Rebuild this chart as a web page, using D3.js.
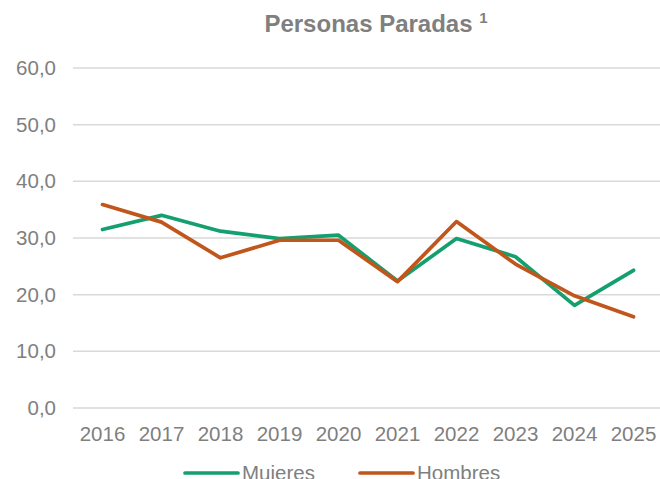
<!DOCTYPE html>
<html>
<head>
<meta charset="utf-8">
<script src="https://cdn.jsdelivr.net/npm/d3@7"></script>
<style>
  body { margin: 0; background: #fff; }
  svg { display: block; font-family: "Liberation Sans", Arial, sans-serif; }
</style>
</head>
<body>
<div id="chart"></div>
<script>
const years = ["2016", "2017", "2018", "2019", "2020", "2021", "2022", "2023", "2024", "2025"];
const mujeres = [31.5, 34.0, 31.2, 29.9, 30.5, 22.4, 29.9, 26.7, 18.1, 24.3];
const hombres = [35.9, 32.8, 26.5, 29.6, 29.6, 22.3, 32.9, 25.4, 19.8, 16.1];
const yTicks = [0, 10, 20, 30, 40, 50, 60];

const width = 660, height = 479;
const margin = { top: 68, right: -3, bottom: 71, left: 73 };
const textColor = "#7f7f7f";

const svg = d3.select("#chart").append("svg")
    .attr("width", width)
    .attr("height", height);

const x = d3.scaleBand()
    .domain(years)
    .range([margin.left, width - margin.right]);

const y = d3.scaleLinear()
    .domain([0, 60])
    .range([height - margin.bottom, margin.top]);

// title
const title = svg.append("text")
    .attr("x", 376)
    .attr("y", 32)
    .attr("text-anchor", "middle")
    .attr("fill", textColor)
    .style("font-size", "24px")
    .style("font-weight", "bold")
    .text("Personas Paradas ");
title.append("tspan")
    .attr("dy", -9)
    .style("font-size", "15px")
    .text("1");

// grid lines + y labels
svg.append("g")
    .selectAll("line")
    .data(yTicks)
    .join("line")
    .attr("x1", margin.left)
    .attr("x2", width)
    .attr("y1", d => y(d))
    .attr("y2", d => y(d))
    .attr("stroke", "#d9d9d9")
    .attr("stroke-width", 1.5);

svg.append("g")
    .selectAll("text")
    .data(yTicks)
    .join("text")
    .attr("x", 56)
    .attr("y", d => y(d) + 7)
    .attr("text-anchor", "end")
    .attr("fill", textColor)
    .style("font-size", "20.5px")
    .text(d => d.toFixed(1).replace(".", ","));

// x labels
svg.append("g")
    .selectAll("text")
    .data(years)
    .join("text")
    .attr("x", d => x(d) + x.bandwidth() / 2)
    .attr("y", 441)
    .attr("text-anchor", "middle")
    .attr("fill", textColor)
    .style("font-size", "20.5px")
    .text(d => d);

const series = [
    { name: "Mujeres", values: mujeres, color: "#14a06e" },
    { name: "Hombres", values: hombres, color: "#c0561b" }
];

const line = d3.line()
    .x((d, i) => x(years[i]) + x.bandwidth() / 2)
    .y(d => y(d));

series.forEach(s => {
    svg.append("path")
        .datum(s.values)
        .attr("fill", "none")
        .attr("stroke", s.color)
        .attr("stroke-width", 3.7)
        .attr("stroke-linejoin", "round")
        .attr("stroke-linecap", "round")
        .attr("d", line);
});

// legend (cut off at the bottom edge, as in the original)
const legendPos = [{ x1: 185, x2: 238 }, { x1: 360, x2: 413 }];
series.forEach((s, i) => {
    const g = svg.append("g");
    g.append("line")
        .attr("x1", legendPos[i].x1)
        .attr("x2", legendPos[i].x2)
        .attr("y1", 473)
        .attr("y2", 473)
        .attr("stroke", s.color)
        .attr("stroke-width", 3.7)
        .attr("stroke-linecap", "round");
    g.append("text")
        .attr("x", legendPos[i].x2 + 4)
        .attr("y", 480)
        .attr("fill", textColor)
        .style("font-size", "20.5px")
        .text(s.name);
});
</script>
</body>
</html>
